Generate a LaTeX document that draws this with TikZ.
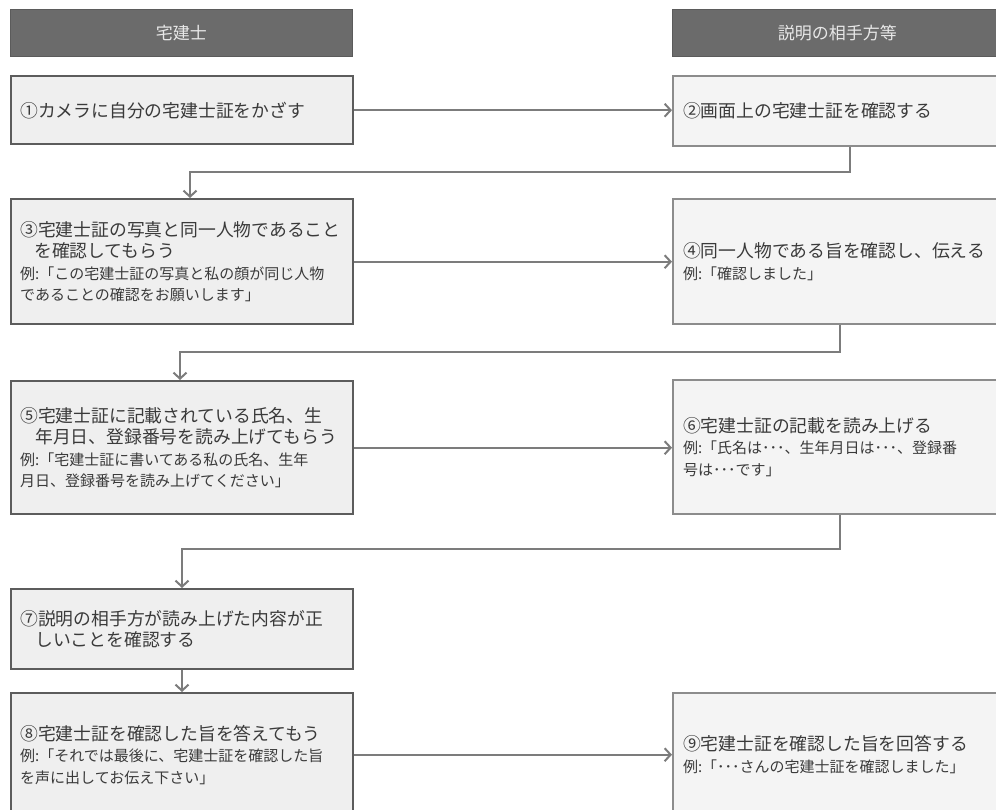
\documentclass[tikz,border=0pt]{standalone}
\usepackage{fontspec}
\setmainfont{Noto Sans CJK JP}
\usetikzlibrary{arrows.meta}
\definecolor{hdrgray}{HTML}{6B6B6B}
\definecolor{hdrtext}{HTML}{E8E8E8}
\definecolor{lfill}{HTML}{EFEFEF}
\definecolor{lborder}{HTML}{5C5C5C}
\definecolor{rfill}{HTML}{F4F4F4}
\definecolor{rborder}{HTML}{8C8C8C}
\definecolor{txt}{HTML}{3A3A3A}
\definecolor{arrgray}{HTML}{7C7C7C}
\newcommand\mainsz{\fontsize{17.8pt}{21.5pt}\selectfont}
\newcommand\exsz{\fontsize{15pt}{21.5pt}\selectfont}
\begin{document}
\begin{tikzpicture}[x=1pt,y=-1pt,
  hdr/.style={fill=hdrgray, draw=hdrgray!85!black, line width=0.8pt, text=hdrtext,
    font=\fontsize{17pt}{20pt}\selectfont, inner sep=0pt, minimum height=47pt, anchor=north west},
  lbox/.style={fill=lfill, draw=lborder, line width=2.4pt, text=txt, align=left,
    text width=324pt, inner xsep=9pt, inner ysep=0pt, minimum width=342pt,
    anchor=north west, font=\mainsz},
  rbox/.style={fill=rfill, draw=rborder, line width=2pt, text=txt, align=left,
    text width=310pt, inner xsep=10pt, inner ysep=0pt, minimum width=330pt,
    anchor=north west, font=\mainsz},
  arr/.style={draw=arrgray, line width=2.2pt,
    -{Straight Barb[length=6pt,width=13pt,line width=2pt]}}
]
\path[use as bounding box] (0,0) rectangle (996,810);
\clip (0,0) rectangle (996,810);

% headers
\node[hdr, minimum width=342pt] (hL) at (10,9) {宅建士};
\node[hdr, minimum width=330pt] (hR) at (672,9) {説明の相手方等};

% boxes
\node[lbox, minimum height=68pt] (b1) at (10,75) {①カメラに自分の宅建士証をかざす};
\node[rbox, minimum height=70pt] (b2) at (672,75) {②画面上の宅建士証を確認する};

\node[lbox, minimum height=125pt] (b3) at (10,198) {③宅建士証の写真と同一人物であること\\\hspace*{14pt}を確認してもらう\\{\exsz 例:「この宅建士証の写真と私の顔が同じ人物}\\{\exsz であることの確認をお願いします」}};
\node[rbox, minimum height=125pt] (b4) at (672,198) {④同一人物である旨を確認し、伝える\\{\exsz 例:「確認しました」}};

\node[lbox, minimum height=133pt] (b5) at (10,380) {⑤宅建士証に記載されている氏名、生\\\hspace*{15pt}年月日、登録番号を読み上げてもらう\\{\exsz 例:「宅建士証に書いてある私の氏名、生年}\\{\exsz 月日、登録番号を読み上げてください」}};
\node[rbox, minimum height=134pt] (b6) at (672,379) {⑥宅建士証の記載を読み上げる\\{\exsz 例:「氏名は･･･、生年月日は･･･、登録番}\\{\exsz 号は･･･です」}};

\node[lbox, minimum height=80pt] (b7) at (10,588) {⑦説明の相手方が読み上げた内容が正\\\hspace*{15pt}しいことを確認する};

\node[lbox, minimum height=123pt] (b8) at (10,692) {⑧宅建士証を確認した旨を答えてもう\\{\exsz 例:「それでは最後に、宅建士証を確認した旨}\\{\exsz を声に出してお伝え下さい」}};
\node[rbox, minimum height=123pt] (b9) at (672,692) {⑨宅建士証を確認した旨を回答する\\{\exsz 例:「･･･さんの宅建士証を確認しました」}};

% connectors
\draw[arr] (b1.east) -- (b1.east -| b2.west);
\coordinate (t1) at (850,172);
\coordinate (u1) at (190,172);
\draw[arr] (b2.south -| t1) -- (t1) -- (u1) -- (b3.north -| u1);

\draw[arr] (b3.east) -- (b3.east -| b4.west);
\coordinate (t2) at (840,352);
\coordinate (u2) at (180,352);
\draw[arr] (b4.south -| t2) -- (t2) -- (u2) -- (b5.north -| u2);

\draw[arr] (b5.east) -- (b5.east -| b6.west);
\coordinate (t3) at (840,549);
\coordinate (u3) at (182,549);
\draw[arr] (b6.south -| t3) -- (t3) -- (u3) -- (b7.north -| u3);

\draw[arr] (b7.south -| u3) -- (b8.north -| u3);
\draw[arr] (b8.east) -- (b8.east -| b9.west);
\end{tikzpicture}
\end{document}
